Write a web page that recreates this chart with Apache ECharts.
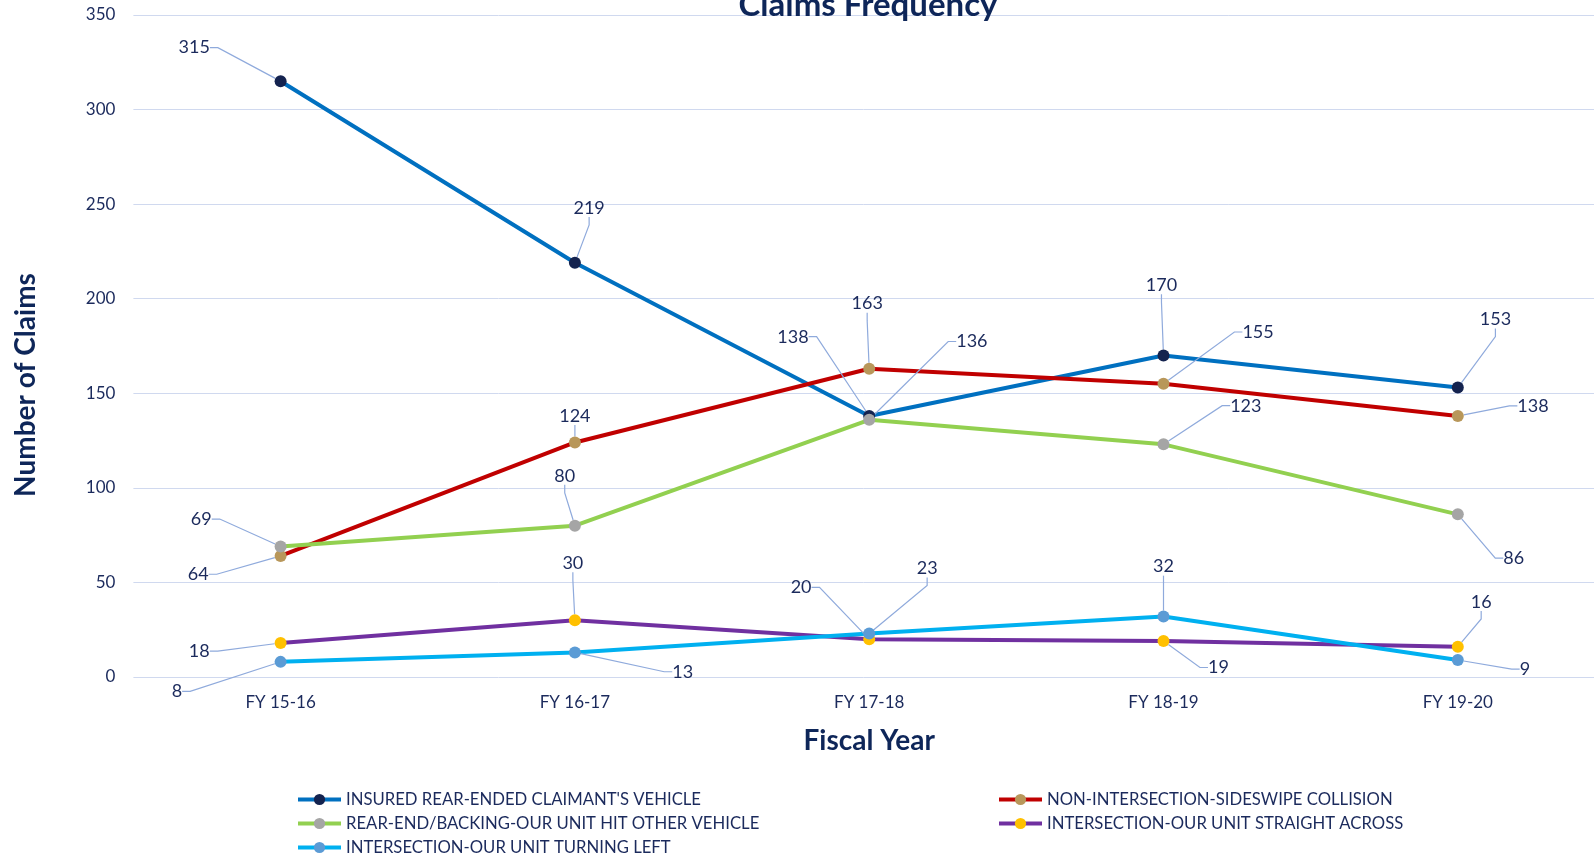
<!DOCTYPE html>
<html><head><meta charset="utf-8">
<script src="https://cdn.jsdelivr.net/npm/echarts@6/dist/echarts.min.js"></script>
<style>html,body{margin:0;padding:0;background:#fff}#c{width:1594px;height:859px}</style>
</head><body><div id="c"></div>
<script>
var categories = ['FY 15-16','FY 16-17','FY 17-18','FY 18-19','FY 19-20'];
var seriesNames = ["INSURED REAR-ENDED CLAIMANT'S VEHICLE","NON-INTERSECTION-SIDESWIPE COLLISION","REAR-END/BACKING-OUR UNIT HIT OTHER VEHICLE","INTERSECTION-OUR UNIT STRAIGHT ACROSS","INTERSECTION-OUR UNIT TURNING LEFT"];
var rearEnded = [315, 219, 138, 170, 153];
var sideswipe = [64, 124, 163, 155, 138];
var backing = [69, 80, 136, 123, 86];
var straightAcross = [18, 30, 20, 19, 16];
var turningLeft = [8, 13, 23, 32, 9];
var yTicks = [0, 50, 100, 150, 200, 250, 300, 350];

var lineColors = ['#0070C0','#C00000','#92D050','#7030A0','#00B0F0'];
var markerColors = ['#14234f','#b8975a','#a5a5a5','#FFC000','#5b9bd5'];
// label offsets (relative to point), styling only
var S = 1.0166;
var offs = [
  [[-85,-33],[14,-54],[-75,-78],[-2,-69],[37,-67]],
  [[-81,18],[0,-26],[-2,-64],[93,-51],[74,-10]],
  [[-78,-27],[-10,-49],[101,-77],[81,-38],[55,43]],
  [[-80,8],[-2,-56],[-67,-51],[54,26],[23,-44]],
  [[-102,29],[106,19],[57,-64],[0,-49],[66,9]]
];
var navy = '#1b2a5c';
var font = 'Lato';
var datasets = [rearEnded, sideswipe, backing, straightAcross, turningLeft];
var yMin = yTicks[0], yMax = yTicks[yTicks.length-1], yStep = yTicks[1] - yTicks[0];

var series = datasets.map(function(d, si){
  return {
    name: seriesNames[si], type: 'line', data: d, xAxisIndex: 1, yAxisIndex: 1,
    symbol: 'circle', symbolSize: 12,
    lineStyle: {color: lineColors[si], width: 4},
    itemStyle: {color: markerColors[si]},
    label: {show: true, position: 'inside', color: navy, fontSize: 18, fontFamily: font, padding: [2, 12]},
    labelLine: {show: true, length2: 8, lineStyle: {color: '#8faadc', width: 1.2}},
    labelLayout: function(p){
      var o = offs[si][p.dataIndex];
      return {dx: o[0]*S, dy: o[1]*S};
    },
    emphasis: {disabled: true},
    animation: false
  };
});

var legendCommon = {orient: 'vertical', itemWidth: 43, itemHeight: 14, itemGap: 7, height: 120,
  lineStyle: {width: 4}, textStyle: {color: navy, fontSize: 16.7, fontFamily: font}};

var chart = echarts.init(document.getElementById('c'));
chart.setOption({
  backgroundColor: '#fff',
  animation: false,
  title: {text: 'Claims Frequency', left: 863, textAlign: 'center', top: -16,
    textStyle: {color: '#0e2659', fontSize: 33, fontWeight: 'bold', fontFamily: font}},
  grid: [
    {left: 133.4, right: 0, top: 15, bottom: 182},
    {left: 280.6, right: 136.2, top: 15, bottom: 182}
  ],
  xAxis: [
    {type: 'category', gridIndex: 0, data: categories, show: false},
    {type: 'category', gridIndex: 1, data: categories, boundaryGap: false,
      axisLine: {show: false}, axisTick: {show: false}, splitLine: {show: false},
      axisLabel: {color: navy, fontSize: 17, fontFamily: font, margin: 17},
      name: 'Fiscal Year', nameLocation: 'middle', nameGap: 50,
      nameTextStyle: {color: '#0e2659', fontSize: 28, fontWeight: 'bold', fontFamily: font}}
  ],
  yAxis: [
    {type: 'value', gridIndex: 0, min: yMin, max: yMax, interval: yStep,
      axisLine: {show: false}, axisTick: {show: false},
      axisLabel: {color: navy, fontSize: 17, fontFamily: font, margin: 18},
      splitLine: {lineStyle: {color: '#d0d9ef', width: 1}}},
    {type: 'value', gridIndex: 1, min: yMin, max: yMax, interval: yStep, show: false, splitLine: {show: false}}
  ],
  graphic: [{type: 'text', rotation: Math.PI/2, x: 26, y: 385,
    style: {text: 'Number of Claims', fill: '#0e2659', font: 'bold 28px ' + font, textAlign: 'center', textVerticalAlign: 'middle'}}],
  legend: [
    Object.assign({data: [seriesNames[0], seriesNames[2], seriesNames[4]], left: 291, top: 786}, legendCommon),
    Object.assign({data: [seriesNames[1], seriesNames[3]], left: 992, top: 786}, legendCommon)
  ],
  series: series
});
</script></body></html>
